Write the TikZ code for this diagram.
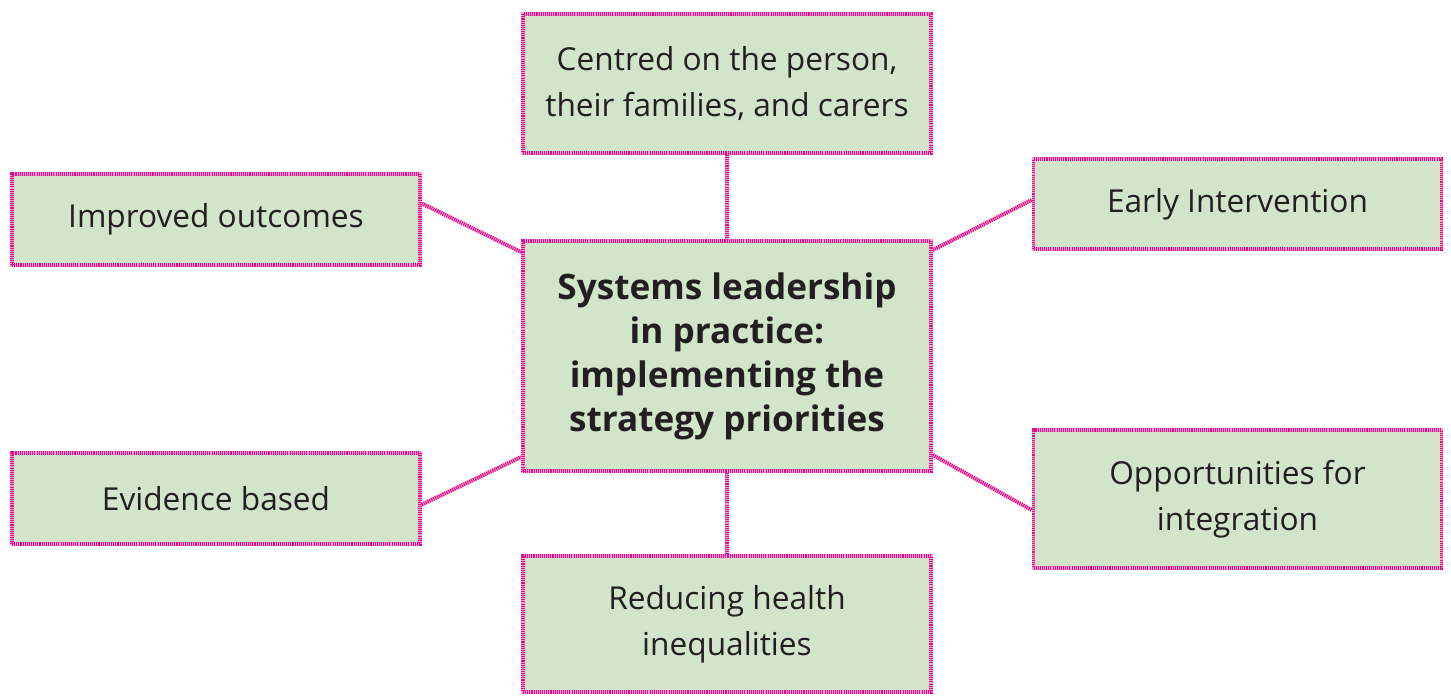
\documentclass[tikz,border=0pt]{standalone}
\usepackage{fontspec}
\setmainfont{Open Sans}
\usetikzlibrary{calc}

\definecolor{boxfill}{HTML}{D2E5CA}
\definecolor{boxline}{HTML}{E4108A}
\definecolor{boxtext}{HTML}{231F20}

\begin{document}
\begin{tikzpicture}[
        x=0.02cm,y=-0.02cm,
        dotted line/.style={draw=boxline,line width=2.2pt,dash pattern=on 0.6pt off 0.6pt,
            preaction={draw=boxline!40,line width=2.2pt,solid}},
        theme/.style={preaction={fill=boxfill},dotted line,text=boxtext,align=center,
            minimum width=8.16cm,inner sep=0pt,font=\fontsize{18}{26}\selectfont},
        link/.style={dotted line}
    ]
        \useasboundingbox (0,0) rectangle (1451,696);

        % Define the nodes
        \node[theme,minimum height=4.6cm,font=\fontsize{20}{25}\selectfont\bfseries] (cen) at (727,356)
            {Systems leadership\\in practice:\\implementing the\\strategy priorities};
        \node[theme,minimum height=2.78cm] (person) at (727,83.5) {Centred on the person,\\their families, and carers};
        \node[theme,minimum height=2.72cm] (health) at (727,624) {Reducing health\\inequalities};
        \node[theme,minimum height=1.82cm] (imp) at (216,219.5) {Improved outcomes};
        \node[theme,minimum height=1.82cm] (evi) at (216,498.5) {Evidence based};
        \node[theme,minimum height=1.80cm] (early) at (1237.5,204) {Early Intervention};
        \node[theme,minimum height=2.76cm] (opp) at (1237.5,499) {Opportunities for\\integration};

        % Draw the links to the centre box
        \draw [link] (person) -- (cen);
        \draw [link] (cen) -- (health);
        \draw [link] ($(imp.east)+(0,-16)$) -- ($(cen.west)+(0,-104)$);
        \draw [link] ($(evi.east)+(0,6)$) -- ($(cen.west)+(0,101)$);
        \draw [link] ($(cen.east)+(0,-106)$) -- ($(early.west)+(0,-4)$);
        \draw [link] ($(cen.east)+(0,99)$) -- ($(opp.west)+(0,11)$);
    \end{tikzpicture}
\end{document}
